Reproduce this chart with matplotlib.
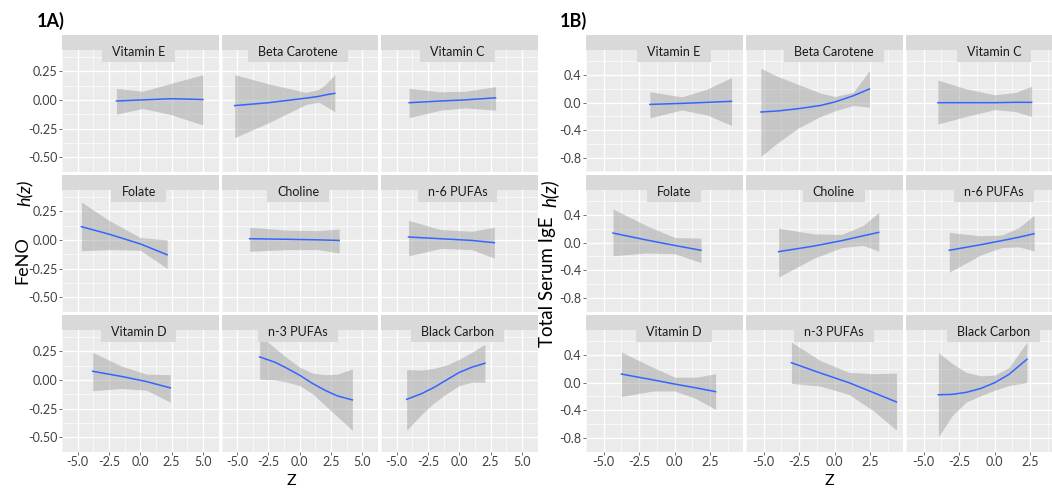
import matplotlib
matplotlib.use('Agg')
import matplotlib.pyplot as plt
from matplotlib.patches import Rectangle

plt.rcParams['font.family'] = ['Lato', 'DejaVu Sans']

facets = ['Vitamin E', 'Beta Carotene', 'Vitamin C',
          'Folate', 'Choline', 'n-6 PUFAs',
          'Vitamin D', 'n-3 PUFAs', 'Black Carbon']

# 1A) FeNO: exposure z, estimate h(z) and 95% band, per facet
feno_z = [[-1.9, 0.2, 2.5, 5.0],
          [-5.2, -2.5, 0.5, 1.5, 2.0, 2.8],
          [-4.0, -1.5, 0.5, 2.9],
          [-4.7, -2.5, 0.0, 2.15],
          [-4.0, -1.0, 1.5, 3.15],
          [-4.05, -1.5, 1.0, 2.8],
          [-3.8, -1.5, 0.5, 2.4],
          [-3.2, -2.0, -1.0, 0.0, 1.0, 2.0, 3.0, 4.2],
          [-4.2, -3.0, -2.0, -1.0, 0.0, 1.0, 2.05]]
feno_fit = [[-0.01, 0.0, 0.01, 0.003],
            [-0.05, -0.025, 0.015, 0.03, 0.042, 0.057],
            [-0.025, -0.01, 0.0, 0.018],
            [0.115, 0.05, -0.035, -0.13],
            [0.01, 0.005, 0.0, -0.005],
            [0.025, 0.01, -0.005, -0.025],
            [0.075, 0.03, -0.015, -0.07],
            [0.20, 0.155, 0.10, 0.04, -0.03, -0.09, -0.14, -0.175],
            [-0.17, -0.12, -0.065, 0.0, 0.065, 0.11, 0.145]]
feno_lo = [[-0.125, -0.075, -0.13, -0.22],
           [-0.33, -0.2, -0.04, -0.02, -0.05, -0.105],
           [-0.155, -0.09, -0.07, -0.09],
           [-0.095, -0.085, -0.09, -0.25],
           [-0.10, -0.085, -0.085, -0.115],
           [-0.14, -0.075, -0.085, -0.16],
           [-0.095, -0.075, -0.09, -0.195],
           [0.005, 0.0, -0.02, -0.05, -0.12, -0.22, -0.32, -0.44],
           [-0.44, -0.30, -0.20, -0.12, -0.05, -0.02, -0.02]]
feno_hi = [[0.10, 0.075, 0.145, 0.22],
           [0.22, 0.14, 0.065, 0.09, 0.13, 0.22],
           [0.10, 0.07, 0.075, 0.115],
           [0.33, 0.17, 0.02, 0.0],
           [0.11, 0.085, 0.08, 0.095],
           [0.17, 0.09, 0.075, 0.11],
           [0.24, 0.12, 0.05, 0.045],
           [0.39, 0.28, 0.19, 0.11, 0.06, 0.045, 0.05, 0.095],
           [0.09, 0.085, 0.10, 0.13, 0.18, 0.24, 0.31]]

# 1B) Total serum IgE
ige_z = [[-1.75, 0.5, 2.3, 4.0],
         [-5.2, -4.0, -2.5, -1.0, 0.0, 1.3, 2.45],
         [-4.0, -2.0, 0.0, 1.5, 2.6],
         [-4.35, -2.0, 0.0, 1.85],
         [-3.95, -1.5, 0.5, 2.0, 3.1],
         [-3.2, -1.0, 0.5, 1.7, 2.77],
         [-3.75, -1.5, 0.0, 1.5, 2.88],
         [-3.05, -1.0, 1.0, 2.8, 4.35],
         [-3.97, -3.0, -2.0, -1.0, 0.0, 1.0, 2.27]]
ige_fit = [[-0.025, -0.01, 0.005, 0.02],
           [-0.135, -0.12, -0.085, -0.04, 0.01, 0.1, 0.2],
           [0.0, 0.0, 0.0, 0.005, 0.005],
           [0.14, 0.04, -0.04, -0.11],
           [-0.13, -0.05, 0.03, 0.1, 0.15],
           [-0.11, -0.03, 0.03, 0.08, 0.13],
           [0.125, 0.04, -0.02, -0.075, -0.13],
           [0.29, 0.14, 0.0, -0.15, -0.28],
           [-0.175, -0.17, -0.14, -0.085, 0.0, 0.12, 0.34]]
ige_lo = [[-0.22, -0.105, -0.18, -0.33],
          [-0.78, -0.58, -0.36, -0.2, -0.12, -0.04, -0.065],
          [-0.31, -0.2, -0.1, -0.13, -0.2],
          [-0.19, -0.15, -0.16, -0.29],
          [-0.5, -0.23, -0.07, -0.04, -0.12],
          [-0.43, -0.18, -0.07, -0.06, -0.12],
          [-0.2, -0.12, -0.12, -0.23, -0.39],
          [-0.01, -0.05, -0.17, -0.42, -0.69],
          [-0.79, -0.48, -0.28, -0.19, -0.11, -0.04, 0.0]]
ige_hi = [[0.16, 0.085, 0.2, 0.365],
          [0.50, 0.38, 0.26, 0.14, 0.09, 0.15, 0.47],
          [0.33, 0.2, 0.115, 0.15, 0.24],
          [0.49, 0.25, 0.075, 0.065],
          [0.21, 0.13, 0.12, 0.25, 0.44],
          [0.15, 0.1, 0.11, 0.22, 0.40],
          [0.445, 0.22, 0.08, 0.08, 0.13],
          [0.59, 0.32, 0.15, 0.13, 0.14],
          [0.44, 0.28, 0.15, 0.10, 0.11, 0.22, 0.59]]

feno_yticks = [-0.5, -0.25, 0.0, 0.25]
feno_ylabels = ['-0.50', '-0.25', '0.00', '0.25']
ige_yticks = [-0.8, -0.4, 0.0, 0.4]
ige_ylabels = ['-0.8', '-0.4', '0.0', '0.4']
feno_xticks = [-5.0, -2.5, 0.0, 2.5, 5.0]
ige_xticks = [-5.0, -2.5, 0.0, 2.5]

W, H = 1052, 492
fig = plt.figure(figsize=(W / 100, H / 100), dpi=100)
renderer = fig.canvas.get_renderer()

ROW_TOPS = [35, 175, 315]
ROW_H = 136.5
STRIP = 15


def fx(x):
    return x / W


def fy(y):
    return 1 - y / H


def draw_panel(lefts, colw, xlim, ylim, xticks, yticks, ylabels,
               zs, fits, los, his, lab_frac):
    xminor = [t + 1.25 for t in xticks] + [xticks[0] - 1.25]
    ystep = yticks[1] - yticks[0]
    yminor = [t + ystep / 2 for t in yticks] + [yticks[0] - ystep / 2]
    for i in range(9):
        r, c = divmod(i, 3)
        left = lefts[c]
        top = ROW_TOPS[r]
        ax = fig.add_axes([fx(left), fy(top + ROW_H), colw / W,
                           (ROW_H - STRIP) / H])
        ax.set_facecolor('#EBEBEB')
        for s in ax.spines.values():
            s.set_visible(False)
        ax.set_xlim(xlim)
        ax.set_ylim(ylim)
        ax.set_xticks(xticks)
        ax.set_yticks(yticks)
        ax.set_xticks(xminor, minor=True)
        ax.set_yticks(yminor, minor=True)
        ax.grid(which='major', color='white', lw=1.0)
        ax.grid(which='minor', color='white', lw=0.45)
        ax.set_axisbelow(True)
        ax.tick_params(which='minor', length=0)
        ax.tick_params(which='major', length=2.0, width=0.5, color='#333333',
                       labelsize=9, labelcolor='#404040', pad=1.5)
        if c == 0:
            ax.set_yticklabels(ylabels)
        else:
            ax.tick_params(axis='y', left=False, labelleft=False)
        if r == 2:
            ax.set_xticklabels(['%.1f' % t for t in xticks])
        else:
            ax.tick_params(axis='x', bottom=False, labelbottom=False)

        ax.fill_between(zs[i], los[i], his[i], color='#999999', alpha=0.45,
                        lw=0, zorder=2)
        ax.plot(zs[i], fits[i], color='#3366FF', lw=1.1, zorder=3)

        # strip band and label box
        fig.add_artist(Rectangle((fx(left), fy(top + STRIP)), colw / W,
                                 STRIP / H, transform=fig.transFigure,
                                 facecolor='#D9D9D9', lw=0, zorder=1))
        cx = left + colw * lab_frac
        t = fig.text(fx(cx), fy(top + 21), facets[i], ha='center',
                     va='baseline', fontsize=9, color='#1A1A1A', zorder=3)
        tw = t.get_window_extent(renderer=renderer).width
        fig.add_artist(Rectangle((fx(cx - tw / 2 - 10), fy(top + 27)),
                                 (tw + 20) / W, 27 / H,
                                 transform=fig.transFigure,
                                 facecolor='#D9D9D9', lw=0, zorder=2))


draw_panel([62, 221.5, 381], 156.5, (-5.79, 5.47), (-0.524, 0.435),
           feno_xticks, feno_yticks, feno_ylabels,
           feno_z, feno_fit, feno_lo, feno_hi, 0.49)
draw_panel([586, 746, 906], 157, (-5.74, 4.81), (-0.863, 0.766),
           ige_xticks, ige_yticks, ige_ylabels,
           ige_z, ige_fit, ige_lo, ige_hi, 0.56)

# panel tags and axis titles
fig.text(fx(37), fy(27), '1A)', fontsize=13, fontweight='bold',
         ha='left', va='baseline')
fig.text(fx(560), fy(27), '1B)', fontsize=13, fontweight='bold',
         ha='left', va='baseline')

fig.text(fx(22), fy(260), 'FeNO', rotation=90, fontsize=13,
         ha='center', va='center')
fig.text(fx(26), fy(193), 'h(z)', rotation=90, fontsize=13,
         style='italic', ha='center', va='center')
fig.text(fx(548), fy(282), 'Total Serum IgE', rotation=90, fontsize=13.5,
         ha='center', va='center')
fig.text(fx(550), fy(193), 'h(z)', rotation=90, fontsize=13.5,
         style='italic', ha='center', va='center')

fig.text(fx(291), fy(481), 'Z', fontsize=11.5, ha='center', va='center')
fig.text(fx(829), fy(481), 'Z', fontsize=11.5, ha='center', va='center')

fig.savefig('out.png', dpi=100, facecolor='white')
